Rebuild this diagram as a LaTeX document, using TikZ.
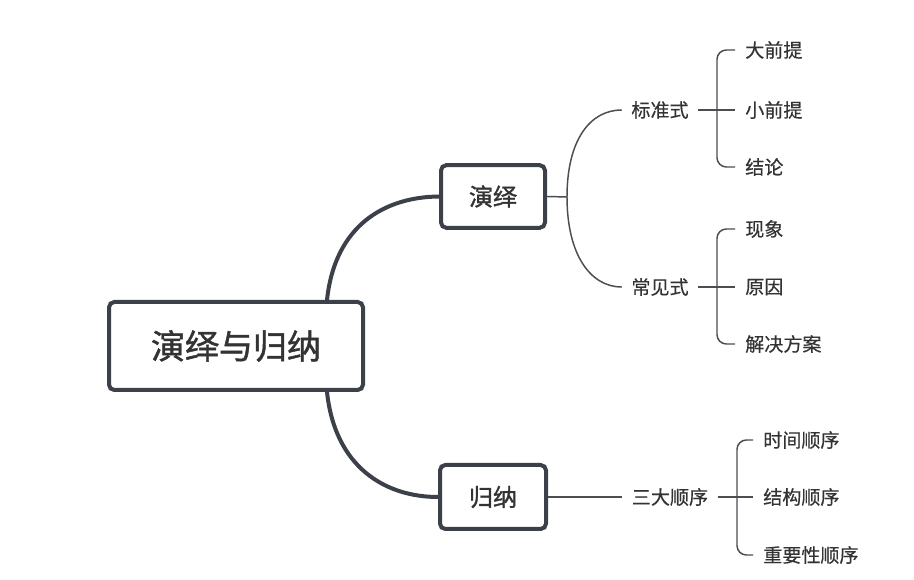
\documentclass[tikz,border=0pt]{standalone}
\usepackage{fontspec}
\setmainfont{Noto Sans CJK SC}
\newfontfamily\boxfont[FakeBold=1.3]{Noto Sans CJK SC}
\newfontfamily\smallfont[FakeBold=0.4]{Noto Sans CJK SC}
\begin{document}
\begin{tikzpicture}[x=0.75pt,y=-0.75pt,
  boxline/.style={draw=boxc, line width=3pt, rounded corners=4pt, fill=white, text=txtc, inner sep=0pt},
  thinline/.style={draw=linec, line width=1.1pt},
  thickline/.style={draw=boxc, line width=3pt},
  branchtxt/.style={text=txtc, font=\smallfont\fontsize{14.3}{16}\selectfont, inner xsep=7pt, inner ysep=2pt},
  leaftxt/.style={text=txtc, font=\smallfont\fontsize{14.3}{16}\selectfont, inner xsep=7.5pt, inner ysep=2pt, anchor=west},
]
\definecolor{boxc}{HTML}{3B4049}
\definecolor{linec}{HTML}{4A4D52}
\definecolor{txtc}{HTML}{333333}
\useasboundingbox[fill=white] (0,0) rectangle (914,580);

% main boxes
\node[boxline, minimum width=190.5pt, minimum height=66pt, font=\boxfont\fontsize{25.5}{28}\selectfont] (root) at (236,346) {演绎与归纳};
\node[boxline, minimum width=78pt, minimum height=47pt, font=\boxfont\fontsize{18}{20}\selectfont] (yy) at (493,196.5) {演绎};
\node[boxline, minimum width=79.5pt, minimum height=48pt, font=\boxfont\fontsize{18}{20}\selectfont] (gn) at (493,497) {归纳};

\coordinate (rt) at (327,300);
\coordinate (rb) at (327,392);
\draw[thickline] (rt) .. controls (335,225) and (385,197) .. (yy.west);
\draw[thickline] (rb) .. controls (335,467) and (385,497) .. (gn.west);

% branch nodes
\node[branchtxt] (bzs) at (660,110) {标准式};
\node[branchtxt] (cjs) at (660,287) {常见式};
\node[branchtxt] (sds) at (670,497) {三大顺序};

\coordinate (yb) at (567,197);
\draw[thinline] (yy.east) -- (yb);
\draw[thinline] (yb) .. controls (567,140) and (590,110) .. (bzs.west);
\draw[thinline] (yb) .. controls (567,254) and (590,287) .. (cjs.west);
\draw[thinline] (gn.east) -- (sds.west);

% leaves
\node[leaftxt] (l1) at (735,50) {大前提};
\node[leaftxt] (l2) at (735,110) {小前提};
\node[leaftxt] (l3) at (735,167) {结论};
\node[leaftxt] (l4) at (735,229) {现象};
\node[leaftxt] (l5) at (735,287) {原因};
\node[leaftxt] (l6) at (735,344) {解决方案};
\node[leaftxt] (l7) at (753,440) {时间顺序};
\node[leaftxt] (l8) at (753,497) {结构顺序};
\node[leaftxt] (l9) at (753,555) {重要性顺序};

\coordinate (b1) at (717,110);
\coordinate (b2) at (717,287);
\coordinate (b3) at (737,497);
\draw[thinline, rounded corners=7pt] (l1.west) -| (b1) |- (l3.west);
\draw[thinline] (bzs.east) -- (l2.west);
\draw[thinline, rounded corners=7pt] (l4.west) -| (b2) |- (l6.west);
\draw[thinline] (cjs.east) -- (l5.west);
\draw[thinline, rounded corners=7pt] (l7.west) -| (b3) |- (l9.west);
\draw[thinline] (sds.east) -- (l8.west);
\end{tikzpicture}
\end{document}
